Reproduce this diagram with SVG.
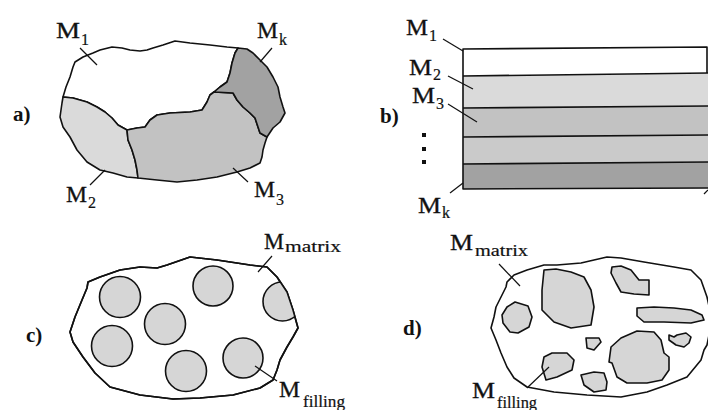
<svg xmlns="http://www.w3.org/2000/svg" width="708" height="410" viewBox="0 0 708 410">
<style>
.ln{fill:none;stroke:#111;stroke-width:1.6;stroke-linejoin:round}
.ld{fill:none;stroke:#111;stroke-width:1.2}
.rg{stroke:#111;stroke-width:1.6;stroke-linejoin:round}
.lbl{font-family:"Liberation Serif","Times New Roman",serif;font-size:23px;fill:#111;stroke:#111;stroke-width:0.3}
.sub{font-family:"Liberation Serif","Times New Roman",serif;font-size:16px;fill:#111;stroke:#111;stroke-width:0.2}
.pl{font-family:"Liberation Serif","Times New Roman",serif;font-size:21px;font-weight:bold;fill:#111}
.g1{fill:#dadada}
.g2{fill:#c2c2c2}
.g3{fill:#a2a2a2}
.gr{fill:#d6d6d6}
</style>
<defs>
<clipPath id="clipC">
<polygon points="88,282 100,277 120,270 140,267 157,268 167,265 190,257 217,260 250,265 267,267 277,277 287,292 293,310 298,328 293,337 287,347 280,360 277,370 273,380 260,388 233,395 200,398 173,399 140,395 110,387 95,373 83,357 73,342 70,332 75,317 82,300 87,288"/>
</clipPath>
</defs>
<rect width="708" height="410" fill="#fff"/>

<g id="panel-a">
<polygon id="a-M1" class="rg" fill="#fff" points="63,97 66,87 70,77 73,67 75,62 83,57 93,53 100,50 112,47 122,48 130,50 140,51 147,50 153,48 163,45 175,41 190,43 210,45 227,47 238,48 235,53 232,63 230,73 227,82 220,87 214,92 210,95 207,102 202,110 190,112 170,113 157,115 150,120 145,127 137,128 127,130 118,125 112,118 105,112 97,107 87,102 73,98"/>
<polygon id="a-M2" class="rg g1" points="63,97 73,98 87,102 97,107 105,112 112,118 118,125 127,130 128,140 132,150 135,160 137,170 138,178 127,177 113,173 100,170 87,162 77,150 70,137 63,127 60,117 62,103"/>
<polygon id="a-M3" class="rg g2" points="127,130 137,128 145,127 150,120 157,115 170,113 190,112 202,110 207,102 210,95 214,92 233,93 237,100 243,107 250,113 255,118 258,127 260,133 267,137 265,143 263,150 262,157 260,163 250,168 237,172 217,177 197,180 177,182 157,180 138,178 137,170 135,160 132,150 128,140"/>
<polygon id="a-Mk" class="rg g3" points="214,92 220,87 227,82 230,73 232,63 235,53 238,48 247,49 253,53 260,60 267,67 273,77 278,87 280,97 283,107 285,113 280,122 273,128 267,137 260,133 258,127 255,118 250,113 243,107 237,100 233,93"/>
<text class="pl" x="13" y="121">a)</text>
<text class="lbl" x="56" y="38" textLength="24" lengthAdjust="spacingAndGlyphs">M</text><text class="sub" x="81" y="45">1</text>
<text class="lbl" x="257" y="38" textLength="21" lengthAdjust="spacingAndGlyphs">M</text><text class="sub" x="279" y="45">k</text>
<text class="lbl" x="66" y="202" textLength="21" lengthAdjust="spacingAndGlyphs">M</text><text class="sub" x="88" y="208">2</text>
<text class="lbl" x="254" y="197" textLength="21" lengthAdjust="spacingAndGlyphs">M</text><text class="sub" x="276" y="205">3</text>
</g>

<g id="panel-b">
<polygon id="b-L1" fill="#fff" points="463,49 707,47 707,73 463,76"/>
<polygon id="b-L2" class="g1" points="463,76 708,73 708,106 463,108"/>
<polygon id="b-L3" class="g2" points="463,108 708,106 708,135 463,137"/>
<polygon id="b-L4" fill="#cacaca" points="463,137 708,135 708,162 463,164"/>
<polygon id="b-L5" class="g3" points="463,164 708,162 708,188 463,189"/>
<polyline class="ln" points="707,73 707,47 463,49 463,189 708,188"/>
<line class="ln" x1="463" y1="76" x2="708" y2="73"/>
<line class="ln" x1="463" y1="108" x2="708" y2="106"/>
<line class="ln" x1="463" y1="137" x2="708" y2="135"/>
<line class="ln" x1="463" y1="164" x2="708" y2="162"/>
<text class="pl" x="380" y="123">b)</text>
<rect x="422" y="133" width="4" height="4" fill="#111"/>
<rect x="422" y="147" width="4" height="4" fill="#111"/>
<rect x="422" y="160" width="4" height="4" fill="#111"/>
<text class="lbl" x="406" y="35" textLength="22" lengthAdjust="spacingAndGlyphs">M</text><text class="sub" x="429" y="41">1</text>
<text class="lbl" x="409" y="75" textLength="23" lengthAdjust="spacingAndGlyphs">M</text><text class="sub" x="433" y="80">2</text>
<text class="lbl" x="412" y="103" textLength="23" lengthAdjust="spacingAndGlyphs">M</text><text class="sub" x="436" y="109">3</text>
<text class="lbl" x="418" y="213" textLength="23" lengthAdjust="spacingAndGlyphs">M</text><text class="sub" x="442" y="218">k</text>
</g>

<g id="panel-c">
<polygon id="c-matrix" class="ln" fill="#fff" points="88,282 100,277 120,270 140,267 157,268 167,265 190,257 217,260 250,265 267,267 277,277 287,292 293,310 298,328 293,337 287,347 280,360 277,370 273,380 260,388 233,395 200,398 173,399 140,395 110,387 95,373 83,357 73,342 70,332 75,317 82,300 87,288"/>
<g class="rg gr">
<circle cx="120" cy="297" r="20.5"/>
<circle cx="213" cy="286" r="20"/>
<circle cx="165" cy="324" r="20.5"/>
<circle cx="112" cy="346" r="20.5"/>
<circle cx="186" cy="371" r="20.5"/>
<circle cx="243" cy="358" r="20"/>
<circle cx="282.5" cy="301.5" r="19.5" clip-path="url(#clipC)"/>
</g>
<polygon class="ln" points="88,282 100,277 120,270 140,267 157,268 167,265 190,257 217,260 250,265 267,267 277,277 287,292 293,310 298,328 293,337 287,347 280,360 277,370 273,380 260,388 233,395 200,398 173,399 140,395 110,387 95,373 83,357 73,342 70,332 75,317 82,300 87,288"/>
<text class="pl" x="26" y="342">c)</text>
<text class="lbl" x="264" y="249" textLength="20" lengthAdjust="spacingAndGlyphs">M</text><text class="sub" x="285" y="252" textLength="56" lengthAdjust="spacingAndGlyphs">matrix</text>
<text class="lbl" x="279" y="397" textLength="21" lengthAdjust="spacingAndGlyphs">M</text><text class="sub" x="303" y="407" textLength="42" lengthAdjust="spacingAndGlyphs">filling</text>
</g>

<g id="panel-d">
<polygon id="d-matrix" class="ln" fill="#fff" points="507,282 514,275 527,270 544,265 557,265 581,263 594,260 607,257 621,258 644,262 674,267 691,270 701,280 707,297 712,320 707,345 704,350 701,360 687,377 667,385 647,392 621,397 587,395 554,392 527,387 514,378 507,367 501,353 496,340 491,328 494,317 496,307 501,297 506,287"/>
<g class="rg gr">
<polygon points="502,315 507,307 515,302 528,306 532,317 529,327 518,333 510,332 503,323"/>
<polygon points="544,270 556,269 571,272 584,277 591,290 594,307 591,325 571,328 554,322 542,310 542,290"/>
<polygon points="612,267 621,266 631,270 639,280 649,280 649,295 634,294 621,292 616,283 611,273"/>
<polygon points="637,308 654,307 674,308 691,310 702,315 704,320 691,323 664,322 644,322 637,316"/>
<polygon points="586,338 599,338 601,342 594,350 587,348"/>
<polygon points="669,335 674,337 677,335 686,333 691,337 689,343 684,347 676,345 669,340"/>
<polygon points="611,347 621,338 637,331 654,332 661,340 664,353 669,357 669,370 662,380 647,383 627,383 617,377 612,363 609,362"/>
<polygon points="544,357 552,353 567,353 574,360 572,370 557,377 546,380 542,367"/>
<polygon points="581,375 594,372 604,373 607,382 606,390 594,392 584,385"/>
</g>
<text class="pl" x="403" y="335">d)</text>
<text class="lbl" x="450" y="250" textLength="23" lengthAdjust="spacingAndGlyphs">M</text><text class="sub" x="475" y="256" textLength="53" lengthAdjust="spacingAndGlyphs">matrix</text>
<text class="lbl" x="472" y="398" textLength="23" lengthAdjust="spacingAndGlyphs">M</text><text class="sub" x="497" y="408" textLength="40" lengthAdjust="spacingAndGlyphs">filling</text>
</g>

<g id="connectors">
<line class="ld" x1="80" y1="48" x2="97" y2="65"/>
<line class="ld" x1="272" y1="48" x2="260" y2="62"/>
<line class="ld" x1="90" y1="185" x2="105" y2="170"/>
<line class="ld" x1="248" y1="182" x2="233" y2="168"/>
<line class="ld" x1="443" y1="39" x2="463" y2="51"/>
<line class="ld" x1="448" y1="76" x2="473" y2="89"/>
<line class="ld" x1="448" y1="104" x2="477" y2="122"/>
<line class="ld" x1="450" y1="193" x2="463" y2="183"/>
<line class="ld" x1="704" y1="194" x2="708" y2="190"/>
<line class="ld" x1="272" y1="256" x2="258" y2="272"/>
<line class="ld" x1="277" y1="381" x2="255" y2="366"/>
<line class="ld" x1="499" y1="264" x2="520" y2="286"/>
<line class="ld" x1="527" y1="388" x2="549" y2="367"/>
</g>
</svg>
